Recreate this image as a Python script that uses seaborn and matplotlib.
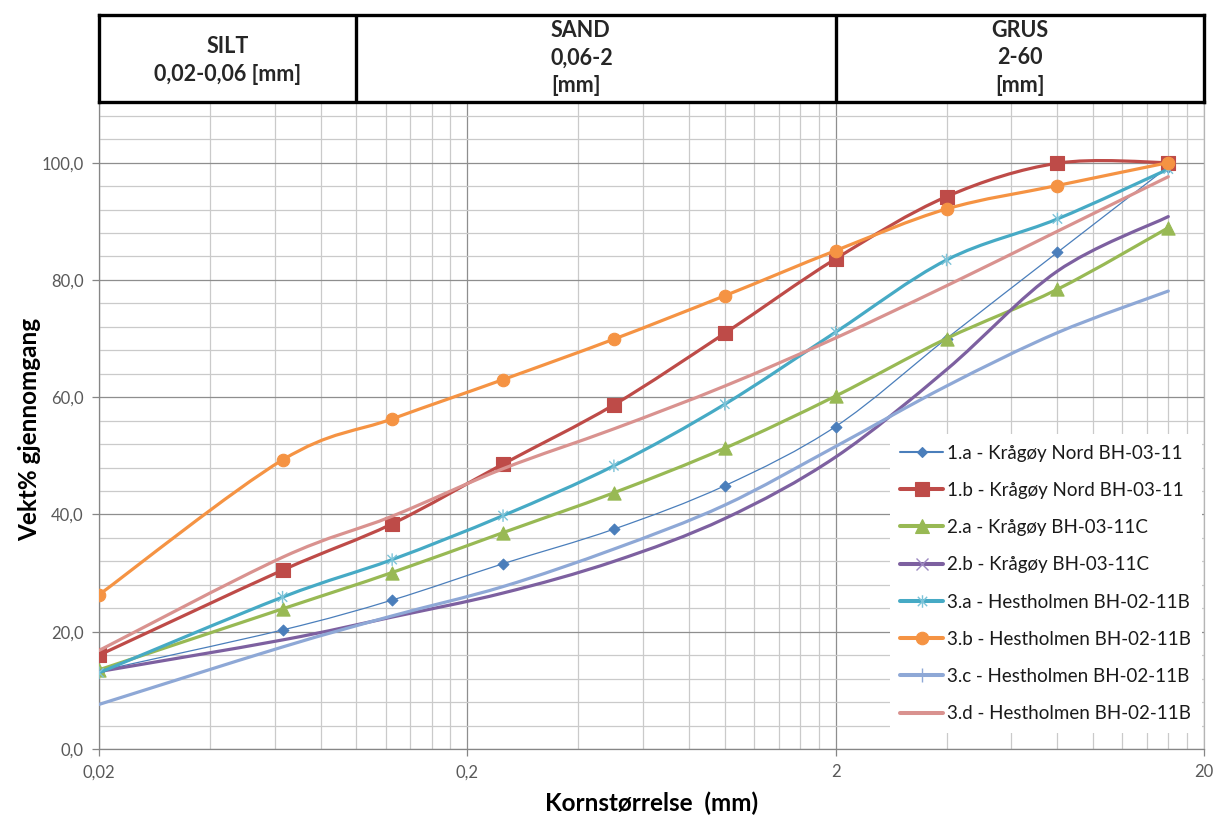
import numpy as np
import matplotlib
matplotlib.use("Agg")
import matplotlib.pyplot as plt
import matplotlib.transforms as mtransforms
import seaborn as sns
from matplotlib.path import Path
from matplotlib.patches import PathPatch
from matplotlib.lines import Line2D
from matplotlib.ticker import FixedLocator, FuncFormatter

# Sieve sizes (mm) and cumulative passing (weight %)
sieve_mm = [0.02, 0.063, 0.125, 0.25, 0.5, 1, 2, 4, 8, 16]

labels = [
    "1.a - Krågøy Nord BH-03-11",
    "1.b - Krågøy Nord BH-03-11",
    "2.a - Krågøy BH-03-11C",
    "2.b - Krågøy BH-03-11C",
    "3.a - Hestholmen BH-02-11B",
    "3.b - Hestholmen BH-02-11B",
    "3.c - Hestholmen BH-02-11B",
    "3.d - Hestholmen BH-02-11B",
]
pass_1a = [13.3, 20.3, 25.4, 31.6, 37.5, 44.9, 55.0, 70.0, 84.7, 99.3]
pass_1b = [16.0, 30.5, 38.4, 48.6, 58.7, 70.9, 83.6, 94.2, 99.9, 100.0]
pass_2a = [13.5, 23.9, 30.1, 36.9, 43.7, 51.3, 60.2, 70.0, 78.4, 88.9]
pass_2b = [13.2, 18.6, 22.5, 26.6, 32.0, 39.3, 49.8, 64.7, 81.5, 90.8]
pass_3a = [13.0, 25.9, 32.3, 39.8, 48.3, 58.8, 71.1, 83.4, 90.4, 98.9]
pass_3b = [26.3, 49.3, 56.3, 63.0, 69.9, 77.3, 85.0, 92.1, 96.1, 100.0]
pass_3c = [7.6, 17.4, 22.7, 27.7, 34.1, 41.6, 51.6, 61.9, 71.0, 78.1]
pass_3d = [16.8, 32.7, 39.7, 47.8, 54.6, 61.9, 70.1, 79.0, 88.3, 97.6]
all_series = [pass_1a, pass_1b, pass_2a, pass_2b, pass_3a, pass_3b, pass_3c, pass_3d]

# Soil fraction bands shown above the plot
band_edges = [0.02, 0.1, 2, 20]
band_texts = ["SILT\n0,02-0,06 [mm]", "SAND\n0,06-2\n[mm]", "GRUS\n2-60\n[mm]"]

x_major = [0.02, 0.2, 2, 20]
y_major = [0, 20, 40, 60, 80, 100]

# Asterisk marker: vertical bar plus a diagonal cross
star_path = Path(
    [(0, -1), (0, 1), (-0.75, -0.75), (0.75, 0.75), (-0.75, 0.75), (0.75, -0.75)],
    [Path.MOVETO, Path.LINETO, Path.MOVETO, Path.LINETO, Path.MOVETO, Path.LINETO],
)

styles = [
    dict(color="#4A7EBB", lw=0.9, marker="D", ms=5.5, filled=True, mew=0.8),
    dict(color="#BE4B48", lw=2.3, marker="s", ms=9.5, filled=True, mew=0.8),
    dict(color="#98B954", lw=2.3, marker="^", ms=9.5, filled=True, mew=0.8),
    dict(color="#7D60A0", lw=2.3, marker="x", ms=8, filled=False, mew=1.0, mcolor="#9C88C0"),
    dict(color="#46AAC5", lw=2.3, marker=star_path, ms=9, filled=False, mew=1.0, mcolor="#7CC3D8"),
    dict(color="#F59343", lw=2.3, marker="o", ms=9, filled=True, mew=0.8),
    dict(color="#8EA8D6", lw=2.3, marker="|", ms=10, filled=False, mew=1.0),
    dict(color="#D9928F", lw=2.3, marker=None, ms=0, filled=False, mew=0),
]


def smooth_path(xs, ys):
    """Cubic Bezier path through the points (Catmull-Rom tangents in log-x space)."""
    pts = np.column_stack([np.log10(np.asarray(xs, float)), np.asarray(ys, float)])
    ext = np.vstack([pts[0], pts, pts[-1]])
    verts = [pts[0]]
    codes = [Path.MOVETO]
    for i in range(len(pts) - 1):
        p0, p1, p2, p3 = ext[i], ext[i + 1], ext[i + 2], ext[i + 3]
        verts += [p1 + (p2 - p0) / 6.0, p2 - (p3 - p1) / 6.0, p2]
        codes += [Path.CURVE4] * 3
    verts = np.array(verts)
    verts[:, 0] = 10 ** verts[:, 0]
    return Path(verts, codes)


sns.set_theme(style="white")
plt.rcParams["font.family"] = ["Lato", "DejaVu Sans"]

W, H = 1220, 817
fig = plt.figure(figsize=(W / 100, H / 100), dpi=100)
fig.patch.set_facecolor("white")
ax = fig.add_axes([99 / W, 68 / H, 1105 / W, 645 / H])
ax.set_xscale("log")

handles = []
for i, (vals, st, lab) in enumerate(zip(all_series, styles, labels)):
    z = 3 + i
    ax.add_patch(PathPatch(smooth_path(sieve_mm, vals), facecolor="none",
                           edgecolor=st["color"], lw=st["lw"], zorder=z,
                           capstyle="round", joinstyle="round"))
    mcol = st.get("mcolor", st["color"])
    if st["marker"] is not None:
        if st["filled"]:
            sns.scatterplot(x=sieve_mm, y=vals, ax=ax, marker=st["marker"],
                            s=st["ms"] ** 2, color=mcol, edgecolor=mcol,
                            linewidth=st["mew"], zorder=z + 0.5)
        else:
            sns.scatterplot(x=sieve_mm, y=vals, ax=ax, marker=st["marker"],
                            s=st["ms"] ** 2, color=mcol, facecolor="none",
                            edgecolor=mcol, linewidth=st["mew"], zorder=z + 0.5)
    handles.append(Line2D([], [], color=st["color"], lw=st["lw"] + 0.6,
                          marker=st["marker"] if st["marker"] is not None else None,
                          ms=st["ms"], mfc=mcol if st["filled"] else "none",
                          mec=mcol, mew=st["mew"]))

ax.set_xlim(0.02, 20)
ax.set_ylim(0, 110)

x_minor = [0.02 * k * 10 ** n for n in range(3) for k in range(2, 10)]
ax.xaxis.set_major_locator(FixedLocator(x_major))
ax.xaxis.set_minor_locator(FixedLocator(x_minor))
ax.xaxis.set_major_formatter(FuncFormatter(lambda v, p: f"{v:g}".replace(".", ",")))
ax.xaxis.set_minor_formatter(FuncFormatter(lambda v, p: ""))
ax.yaxis.set_major_locator(FixedLocator(y_major))
ax.yaxis.set_minor_locator(FixedLocator(list(range(4, 110, 4))))
ax.yaxis.set_major_formatter(FuncFormatter(lambda v, p: f"{v:.1f}".replace(".", ",")))

ax.grid(which="major", color="#8E8E8E", lw=0.9, zorder=0)
ax.grid(which="minor", color="#CACACA", lw=0.9, zorder=0)
ax.set_axisbelow(True)

ax.tick_params(which="major", bottom=True, left=True, direction="out", length=5,
               width=0.9, color="#868686", labelsize=12, labelcolor="#595959")
ax.tick_params(which="minor", length=0)
ax.tick_params(axis="x", pad=6)
ax.tick_params(axis="y", pad=6)
for side in ["left", "bottom"]:
    ax.spines[side].set_color("#868686")
    ax.spines[side].set_linewidth(0.9)
ax.spines["right"].set_color("#B5B5B5")
ax.spines["right"].set_linewidth(0.9)
ax.spines["top"].set_visible(False)

ax.set_xlabel("Kornstørrelse  (mm)", fontsize=17.5, fontweight="bold", color="black")
ax.set_ylabel("Vekt% gjennomgang", fontsize=17.5, fontweight="bold", color="black")
ax.xaxis.set_label_coords(0.5, -0.066)
ax.yaxis.set_label_coords(-0.052, 0.495)

leg = ax.legend(handles, labels, loc="upper left", bbox_to_anchor=(0.716, 0.488),
                borderaxespad=0, frameon=True, fancybox=False, framealpha=1,
                facecolor="white", edgecolor="none", fontsize=13.5,
                handlelength=2.25, handletextpad=0.25, labelspacing=1.08,
                borderpad=0.55)
leg.set_zorder(20)
for t in leg.get_texts():
    t.set_color("#1a1a1a")

# Fraction header band
hdr = fig.add_axes([99 / W, (H - 101.5) / H, 1105 / W, 87 / H])
hdr.set_xscale("log")
hdr.set_xlim(band_edges[0], band_edges[-1])
hdr.set_ylim(0, 1)
hdr.set_xticks([])
hdr.set_yticks([])
hdr.minorticks_off()
hdr.set_facecolor("white")
for sp in hdr.spines.values():
    sp.set_color("black")
    sp.set_linewidth(2.4)
for edge in band_edges[1:-1]:
    hdr.axvline(edge, color="black", lw=2.4)
btrans = mtransforms.blended_transform_factory(hdr.transData, hdr.transAxes)
centers = [np.sqrt(band_edges[i] * band_edges[i + 1]) for i in range(3)]
hdr.text(centers[0], 0.47, band_texts[0], transform=btrans, ha="center", va="center",
         fontsize=15.5, fontweight="bold", linespacing=1.4)
hdr.text(0.337, 0.5, band_texts[1], transform=btrans, ha="left", va="center",
         fontsize=15.5, fontweight="bold", linespacing=1.4, multialignment="left")
hdr.text(centers[2], 0.5, band_texts[2], transform=btrans, ha="center", va="center",
         fontsize=15.5, fontweight="bold", linespacing=1.4)

fig.savefig("out.png", dpi=100, facecolor="white")
